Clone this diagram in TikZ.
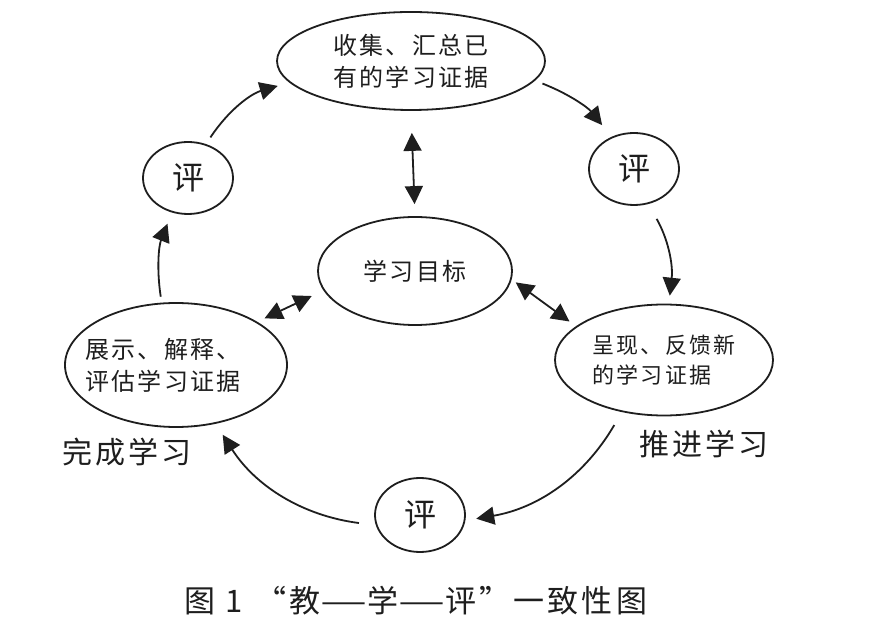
\documentclass[tikz,border=0pt]{standalone}
\usepackage{fontspec}
\usepackage{tikz}
\usetikzlibrary{positioning,arrows.meta,shapes.geometric}
\newfontfamily\cjk[LetterSpace=10]{Noto Sans CJK SC}
\newcommand{\wdash}{\scalebox{1.7}[1]{—}}
\definecolor{evBlack}{RGB}{30,30,30}

\begin{document}
\begin{tikzpicture}[x=1pt,y=1pt,
  ebox/.style={draw=evBlack, line width=1.8pt, ellipse, inner sep=0pt, text=evBlack, align=left, font=\cjk\fontsize{24}{32}\selectfont},
  pingbox/.style={ebox, minimum width=90pt, minimum height=72pt, font=\cjk\fontsize{32}{32}\selectfont},
  tag/.style={text=evBlack, font=\cjk\fontsize{30}{30}\selectfont},
  arr/.style={-{Triangle[length=18pt,width=18pt]}, line width=1.8pt, evBlack},
  darr/.style={{Triangle[length=18pt,width=18pt]}-{Triangle[length=18pt,width=18pt]}, line width=1.8pt, evBlack}]
  \fill[white] (0,0) rectangle (888,629);
  \useasboundingbox (0,0) rectangle (888,629);

  % Evidence ellipses
  \node[ebox, minimum width=268pt, minimum height=98pt] (collect) at (411,568) {收集、汇总已\\有的学习证据};
  \node[ebox, minimum width=194pt, minimum height=108pt] (goal) at (415,358) {学习目标};
  \node[ebox, minimum width=218pt, minimum height=111pt, font=\cjk\fontsize{22}{30}\selectfont] (present) at (664,269) {呈现、反馈新\\的学习证据};
  \node[ebox, minimum width=222pt, minimum height=124pt] (explain) at (176,264) {};
  \node[ebox, draw=none] (explainText) at (163,264) {展示、解释、\\评估学习证据};

  % Ping circles
  \node[pingbox] (pingR) at (634,460) {评};
  \node[pingbox] (pingL) at (188,451) {评};
  \node[pingbox, minimum height=74pt] (pingB) at (420,114) {评};

  % Stage labels
  \node[tag] (advance) at (704,185) {推进学习};
  \node[tag] (finish) at (127,177) {完成学习};
  \node[tag, font=\cjk\fontsize{31}{31}\selectfont] (caption) at (416,28) {图 1\hspace{12pt}“教\wdash 学\wdash 评”一致性图};

  % Cycle
  \draw[arr, shorten <=8pt, shorten >=12pt] (pingL.62) to[bend left=20] (collect.190);
  \draw[arr, shorten <=8pt, shorten >=15pt] (collect.-9) to[bend left=15] (pingR.125);
  \draw[arr, shorten <=17pt, shorten >=8pt] (pingR.-68) to[bend left=18] (present.85);
  \draw[arr, shorten <=15pt, shorten >=11pt] (present.231) to[bend left=25] (pingB.-7);
  \draw[arr, shorten <=17pt, shorten >=13pt] (pingB.193) to[bend left=25] (explain.-56);
  \draw[arr, shorten <=6pt, shorten >=12pt] (explain.103) to[bend left=15] (pingL.245);

  % Links to the goal
  \draw[darr, shorten <=22pt, shorten >=12pt] (collect.south) -- (goal.north);
  \draw[darr, shorten <=8pt, shorten >=13pt] (explain.28) -- (goal.192);
  \draw[darr, shorten <=5pt, shorten >=8pt] (goal.-5) -- (present.159);
\end{tikzpicture}
\end{document}
